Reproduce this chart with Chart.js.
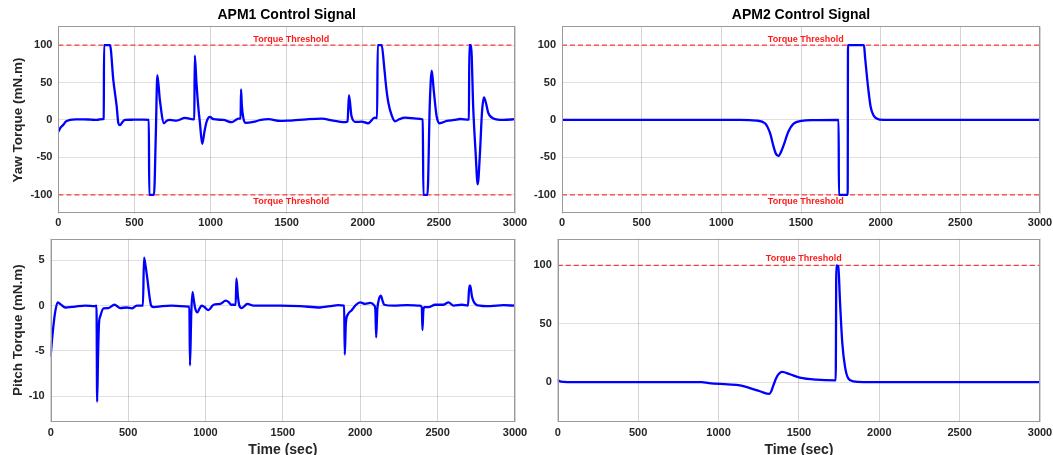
<!DOCTYPE html>
<html>
<head>
<meta charset="utf-8">
<script src="https://cdn.jsdelivr.net/npm/chart.js@4/dist/chart.umd.min.js"></script>
<style>
    body { margin: 0; width: 1053px; height: 455px; overflow: hidden; background: #fff; position: relative; }
    canvas { position: absolute; }
</style>
</head>
<body>
<canvas id="apm1Yaw" width="535" height="235" style="left:0;top:0"></canvas>
<canvas id="apm2Yaw" width="533" height="235" style="left:520px;top:0"></canvas>
<canvas id="apm1Pitch" width="535" height="232" style="left:0;top:228px"></canvas>
<canvas id="apm2Pitch" width="533" height="232" style="left:520px;top:228px"></canvas>
<script>
// tick labels
const timeTicks = [0, 500, 1000, 1500, 2000, 2500, 3000];
const yawTicks = [-100, -50, 0, 50, 100];
const pitch1Ticks = [-10, -5, 0, 5];
const pitch2Ticks = [0, 50, 100];

// torque threshold
const thresholdT = [0, 3000];
const thresholdLabel = "Torque Threshold";

// APM1 yaw torque (mN.m)
const apm1YawT = [0, 15, 32, 50, 76, 120, 164, 210, 251, 295, 298, 300, 339, 361, 383, 394, 405, 420, 438, 480, 514, 560, 594, 597,
    628, 640, 650, 667, 694, 712, 733, 777, 832, 887, 893, 896, 907, 919, 930, 945, 960, 974, 996, 1018, 1084, 1139, 1183, 1197,
    1200, 1205, 1216, 1231, 1281, 1330, 1380, 1457, 1512, 1543, 1631, 1729, 1806, 1872, 1900, 1909, 1926, 1954, 1991, 2035, 2079,
    2094, 2098, 2124, 2140, 2153, 2168, 2190, 2212, 2240, 2278, 2354, 2394, 2398, 2425, 2440, 2453, 2466, 2485, 2504, 2552, 2600,
    2640, 2694, 2697, 2700, 2711, 2726, 2741, 2755, 2770, 2783, 2796, 2810, 2825, 2858, 2924, 3000];
const apm1YawV = [-15.5, -10, -6.6, -2, 0, 0.8, 0.9, 0.5, 0, 1.3, 1.5, 100, 100, 53, 18, -4.4, -7, -3, 0, 0.3, 0.5, 0.5, 0, -100,
    -100, -20, 60, 26, -4.4, -1, 0, -0.9, 2.7, 0.9, 1, 86, 50, 17.7, -4.4, -32, -15, -2.2, 4, 1, 0, -3, 1.8, 2,
    40.7, 20, 1.8, -4, -2.7, 0, 1, -1.3, -0.9, -0.5, 0.9, 1.8, -0.9, -3, -2, 33, 5, -2.7, -2.2, -4.4, 3.1,
    2.5, 100, 100, 72, 45, 23, 6, -1.8, 1, 3, 1.8, 0.5, -100, -100, 20, 66, 40, 5, -4.4, -1.3, 0,
    1.3, 0.4, 0.5, 100, 100, 14, -43, -86, -43, 10, 30, 22, 9, 2, 0, 1];

// APM2 yaw torque (mN.m)
const apm2YawT = [0, 1117, 1222, 1274, 1306, 1327, 1342, 1358, 1374, 1389, 1421, 1452, 1504, 1577, 1736, 1738, 1793, 1795, 1895,
    1902, 1912, 1923, 1937, 1954, 1975, 2017, 3000];
const apm2YawV = [0, 0, -0.9, -4.4, -17.7, -35, -45, -48, -43, -35, -15.5, -5.3, -1.3, -0.3, 0, -100, -100, 100, 100,
    84, 62, 40, 17.7, 6.6, 1.8, 0, 0];

// APM1 pitch torque (mN.m)
const apm1PitchT = [0, 10, 28, 45, 61, 93, 158, 222, 287, 296, 300, 306, 312, 320, 341, 373, 412, 449, 492, 524, 556, 584, 596,
    603, 612, 625, 640, 649, 664, 720, 782, 890, 896, 900, 908, 916, 924, 933, 948, 962, 976, 993, 1019, 1052, 1095, 1131,
    1150, 1166, 1195, 1200, 1210, 1219, 1234, 1271, 1310, 1481, 1611, 1740, 1805, 1859, 1896, 1900, 1907, 1919, 1945, 1973,
    1999, 2032, 2064, 2092, 2098, 2103, 2110, 2118, 2133, 2145, 2155, 2215, 2301, 2387, 2398, 2402, 2408, 2415, 2441, 2484,
    2538, 2570, 2603, 2657, 2696, 2705, 2711, 2722, 2732, 2758, 2840, 2926, 3000];
const apm1PitchV = [-5.5, -3.5, -0.8, 0.37, 0.2, -0.2, -0.1, 0, -0.05, 0, -10.6, -5.5, -2, -1.2, -0.3, -0.26, 0.1, -0.26, -0.2,
    -0.3, 0, 0, 0, 5.3, 4.5, 2.9, 0.8, 0, -0.15, -0.05, 0, -0.1, -0.1, -6.6, -1, 1.5, 0.7, -0.26, -0.74, -0.3, 0, -0.15,
    -0.5, 0.1, 0.2, 0.55, 0.4, 0.1, 0.1, 3, 1, 0, -0.26, 0.2, 0, 0, -0.05, -0.2, -0.05, 0.05, 0, -5.4, -2, -1, -0.5, 0.1,
    0.37, 0.2, 0.3, 0, -0.5, -3.5, -0.5, 0.5, 1.1, 0.5, 0.1, 0, 0.05, 0, -0.2, -2.7, -0.5, -0.15, -0.15, 0.1,
    0.1, 0.37, 0, 0.1, 0, 2.2, 2.2, 1, 0.5, 0.04, -0.05, 0.05, 0];

// APM2 pitch torque (mN.m)
const apm2PitchT = [0, 20, 60, 895, 941, 1057, 1134, 1196, 1258, 1316, 1328, 1341, 1365, 1396, 1444, 1506, 1610, 1729, 1733,
    1745, 1756, 1770, 1787, 1808, 1839, 1901, 3000];
const apm2PitchV = [1.5, 0.3, 0, 0, -1, -2, -2.9, -5.2, -7.9, -10.2, -8, -2.9, 5, 8.7, 6.7, 3.8, 2, 1.5, 100,
    99, 68, 33.5, 13, 2.9, 0.6, 0, 0];

Chart.defaults.font.family = "'Liberation Sans', Arial, Helvetica, sans-serif";
Chart.defaults.color = "#262626";

// axes box and threshold captions
const frame = {
    id: "frame",
    afterDatasetsDraw(chart, args, opts) {
        const ctx = chart.ctx;
        const a = chart.chartArea;
        ctx.save();
        ctx.strokeStyle = "#9a9a9a";
        ctx.lineWidth = 1;
        ctx.strokeRect(Math.round(a.left) + 0.5, Math.round(a.top) + 0.5,
            Math.round(a.width) - 1, Math.round(a.height) - 1);
        ctx.font = "bold 9px 'Liberation Sans', Arial, sans-serif";
        ctx.fillStyle = "rgba(255, 0, 0, 0.9)";
        ctx.textAlign = "center";
        ctx.textBaseline = "middle";
        (opts.labels || []).forEach(l => {
            const x = chart.scales.x.getPixelForValue(l.x);
            const y = chart.scales.y.getPixelForValue(l.y) + l.dy;
            ctx.fillText(l.text, x, y);
        });
        ctx.restore();
    }
};

function toPoints(t, v) {
    return t.map((x, i) => ({ x: x, y: v[i] }));
}

function panel(id, cfg) {
    const ctx = document.getElementById(id).getContext("2d");
    const datasets = [
        {
            data: toPoints(cfg.t, cfg.v),
            borderColor: "#0000ff",
            borderWidth: 2.3,
            pointRadius: 0,
            cubicInterpolationMode: "monotone",
            borderJoinStyle: "round",
            borderCapStyle: "round"
        }
    ];
    cfg.levels.forEach(level => {
        datasets.push({
            data: thresholdT.map(x => ({ x: x, y: level })),
            borderColor: "rgba(255, 0, 0, 0.75)",
            borderWidth: 1.2,
            borderDash: [5, 3],
            pointRadius: 0
        });
    });
    return new Chart(ctx, {
        type: "line",
        data: { datasets: datasets },
        options: {
            responsive: false,
            animation: false,
            devicePixelRatio: 1,
            layout: {
                padding: { top: cfg.padTop, right: cfg.padRight, left: 0, bottom: 0 }
            },
            plugins: {
                legend: { display: false },
                tooltip: { enabled: false },
                title: {
                    display: !!cfg.title,
                    text: cfg.title,
                    fullSize: false,
                    color: "#000",
                    font: { size: 14, weight: "bold", lineHeight: 1.2 },
                    padding: { top: 6.6, bottom: 3 }
                },
                frame: { labels: cfg.labels }
            },
            scales: {
                x: {
                    type: "linear",
                    min: 0,
                    max: 3000,
                    afterBuildTicks: s => {
                        s.ticks = timeTicks.map(v => ({ value: v }));
                    },
                    afterFit: s => {
                        s.height = cfg.xHeight;
                        s.paddingLeft = 0;
                        s.paddingRight = 0;
                    },
                    border: { display: false },
                    grid: { color: "rgba(0, 0, 0, 0.17)", drawTicks: false },
                    ticks: {
                        font: { size: 11, weight: "bold" },
                        padding: cfg.xTickPad,
                        maxRotation: 0,
                        autoSkip: false,
                        callback: v => String(v)
                    },
                    title: {
                        display: !!cfg.xTitle,
                        text: cfg.xTitle,
                        color: "#262626",
                        font: { size: 14, weight: "bold", lineHeight: 1.2 },
                        padding: { top: 0, bottom: 1.8 }
                    }
                },
                y: {
                    type: "linear",
                    min: cfg.yMin,
                    max: cfg.yMax,
                    afterBuildTicks: s => {
                        s.ticks = cfg.yTicks.map(v => ({ value: v }));
                    },
                    afterFit: s => {
                        s.width = cfg.yWidth;
                        s.paddingTop = 0;
                        s.paddingBottom = 0;
                    },
                    border: { display: false },
                    grid: { color: "rgba(0, 0, 0, 0.12)", drawTicks: false },
                    ticks: {
                        font: { size: 11, weight: "bold" },
                        padding: 6,
                        callback: v => String(v)
                    },
                    title: {
                        display: !!cfg.yTitle,
                        text: cfg.yTitle,
                        color: "#262626",
                        font: { size: 13.5, weight: "bold", lineHeight: 1.2 },
                        padding: { top: 10, bottom: 0 }
                    }
                }
            }
        },
        plugins: [frame]
    });
}

window.onload = function() {
    panel("apm1Yaw", {
        t: apm1YawT, v: apm1YawV, levels: [100, -100],
        yMin: -125, yMax: 125, yTicks: yawTicks,
        title: "APM1 Control Signal", yTitle: "Yaw Torque (mN.m)",
        yWidth: 58.4, xHeight: 21.5, padTop: 0, padRight: 20, xTickPad: 3,
        labels: [
            { text: thresholdLabel, x: 1530, y: 100, dy: -5.5 },
            { text: thresholdLabel, x: 1530, y: -100, dy: 7 }
        ]
    });
    panel("apm2Yaw", {
        t: apm2YawT, v: apm2YawV, levels: [100, -100],
        yMin: -125, yMax: 125, yTicks: yawTicks,
        title: "APM2 Control Signal",
        yWidth: 42, xHeight: 21.5, padTop: 0, padRight: 13, xTickPad: 3,
        labels: [
            { text: thresholdLabel, x: 1530, y: 100, dy: -5.5 },
            { text: thresholdLabel, x: 1530, y: -100, dy: 7 }
        ]
    });
    panel("apm1Pitch", {
        t: apm1PitchT, v: apm1PitchV, levels: [],
        yMin: -12.8, yMax: 7.4, yTicks: pitch1Ticks,
        yTitle: "Pitch Torque (mN.m)", xTitle: "Time (sec)",
        yWidth: 50.7, xHeight: 38.3, padTop: 10.6, padRight: 20, xTickPad: 5,
        labels: []
    });
    panel("apm2Pitch", {
        t: apm2PitchT, v: apm2PitchV, levels: [100],
        yMin: -34, yMax: 123, yTicks: pitch2Ticks,
        xTitle: "Time (sec)",
        yWidth: 37.8, xHeight: 38.3, padTop: 10.6, padRight: 13, xTickPad: 5,
        labels: [
            { text: thresholdLabel, x: 1530, y: 100, dy: -6.5 }
        ]
    });
};
</script>
</body>
</html>
